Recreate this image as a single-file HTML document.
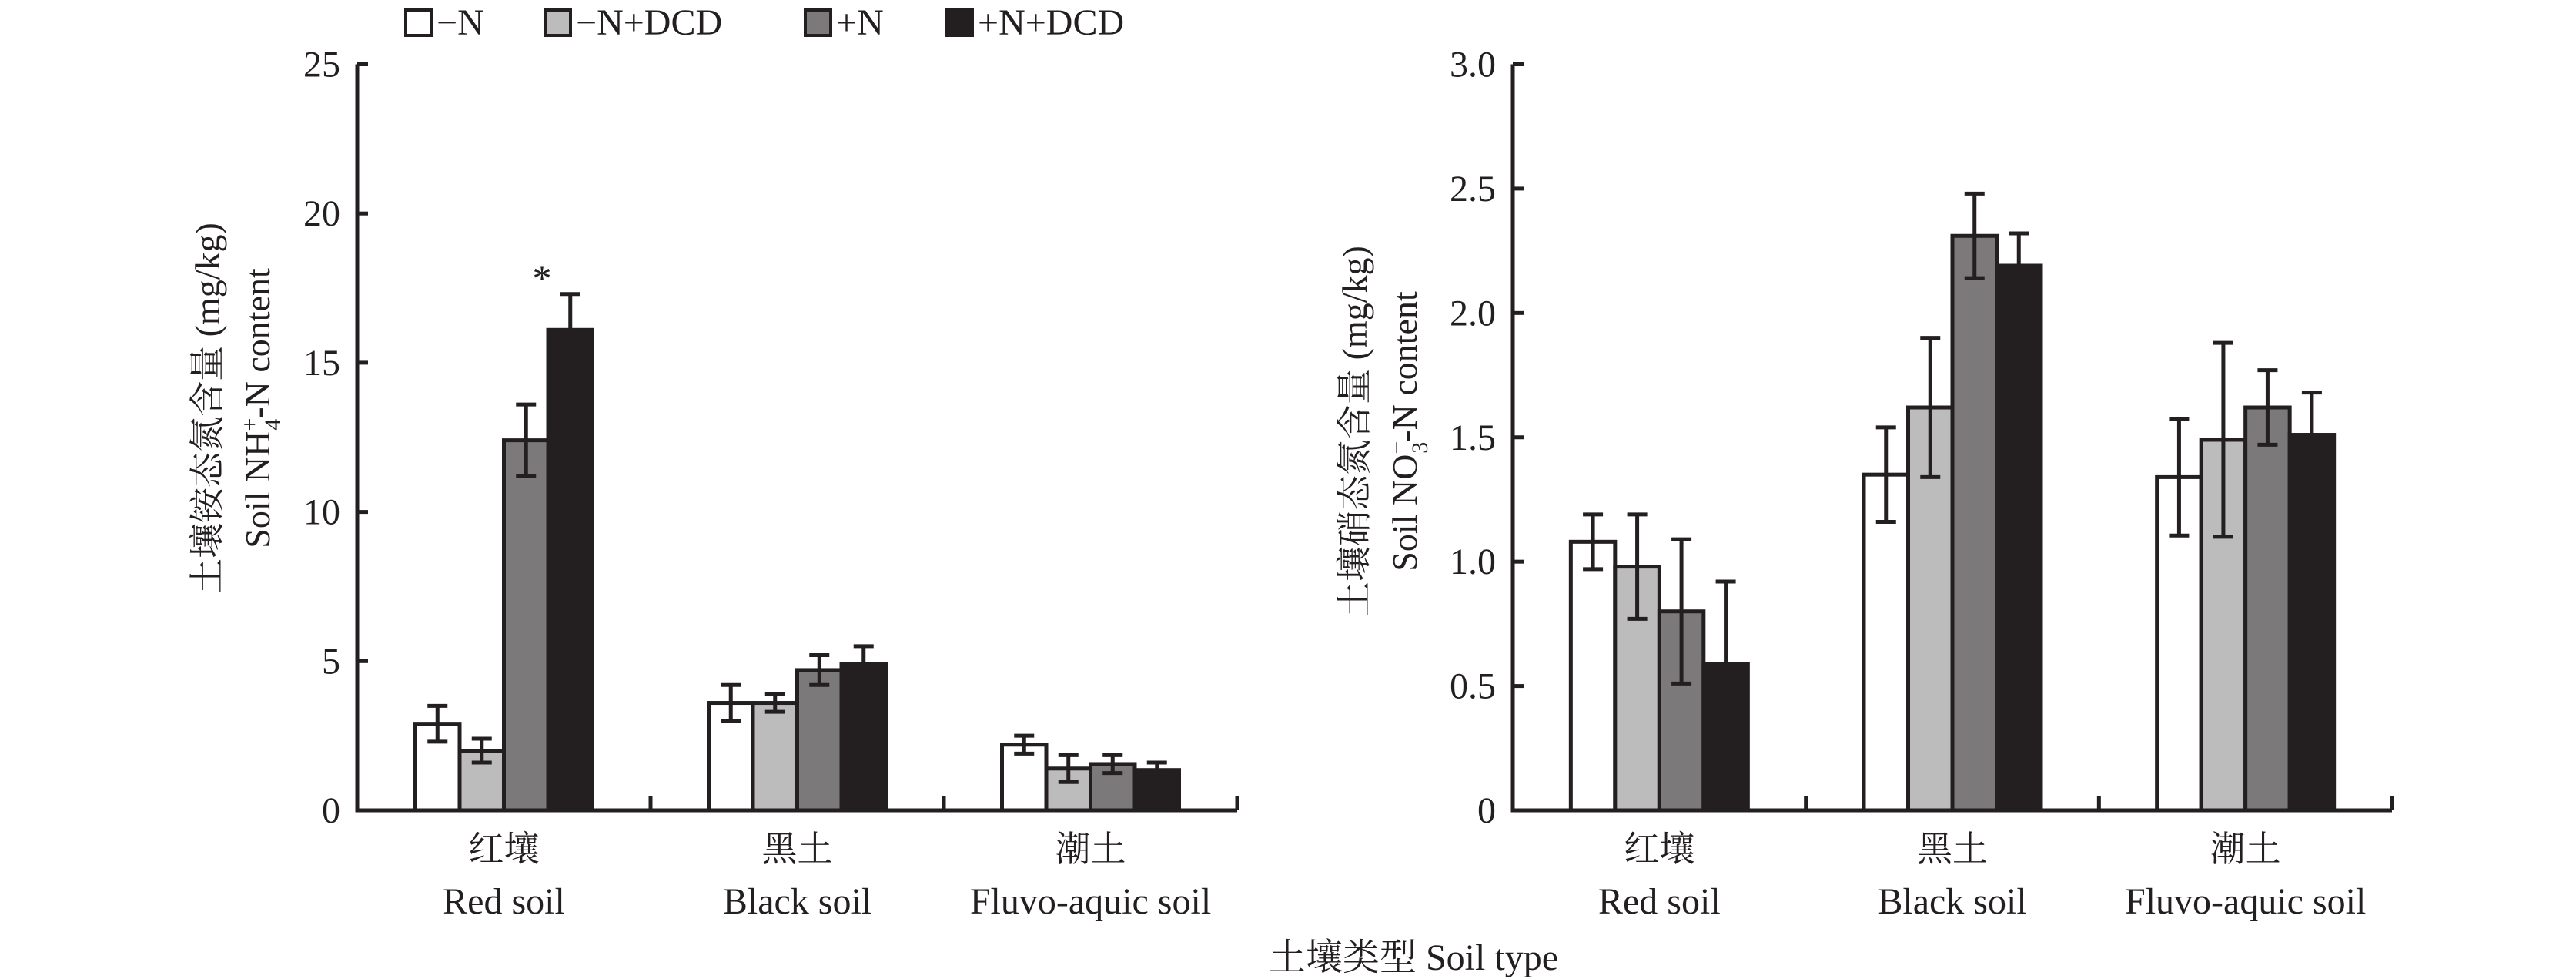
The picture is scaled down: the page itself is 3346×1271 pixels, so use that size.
<!DOCTYPE html>
<html><head><meta charset="utf-8"><style>
html,body{margin:0;padding:0;background:#fff;}
svg{display:block;}
text{font-family:"Liberation Serif","Noto Serif CJK SC","Noto Sans CJK SC",serif;fill:#231f20;}
</style></head><body>
<svg id="chart" width="3346" height="1271" viewBox="0 0 3346 1271" xmlns="http://www.w3.org/2000/svg">
<g id="legend"></g>
<g id="left"></g>
<g id="right"></g>
<text x="1836" y="1259" font-size="48" text-anchor="middle">土壤类型 Soil type</text>
</svg>
<script>
const categoriesZh = ["红壤","黑土","潮土"];
const categoriesEn = ["Red soil","Black soil","Fluvo-aquic soil"];
const seriesNames = ["−N","−N+DCD","+N","+N+DCD"];
const seriesColors = ["#ffffff","#bcbcbc","#7b797a","#231f20"];
const nh4Values = [[2.9,3.6,2.2],[2.0,3.6,1.4],[12.4,4.7,1.55],[16.1,4.9,1.35]];
const nh4Errors = [[0.6,0.6,0.3],[0.4,0.3,0.45],[1.2,0.5,0.3],[1.2,0.6,0.25]];
const nh4Ticks = [0,5,10,15,20,25];
const nh4TickLabels = ["0","5","10","15","20","25"];
const no3Values = [[1.08,1.35,1.34],[0.98,1.62,1.49],[0.80,2.31,1.62],[0.59,2.19,1.51]];
const no3Errors = [[0.11,0.19,0.235],[0.21,0.28,0.39],[0.29,0.17,0.15],[0.33,0.13,0.17]];
const no3Ticks = [0,0.5,1,1.5,2,2.5,3];
const no3TickLabels = ["0","0.5","1.0","1.5","2.0","2.5","3.0"];

const NS="http://www.w3.org/2000/svg";
function mk(parent,tag,attrs){const e=document.createElementNS(NS,tag);for(const k in attrs)e.setAttribute(k,attrs[k]);parent.appendChild(e);return e;}

function drawChart(g, cfg){
  const x0=cfg.x0, x1=cfg.x1, y0=1052, yTop=83.5, ymax=cfg.ymax;
  const yS=v=>y0-(v/ymax)*(y0-yTop);
  const groupW=(x1-x0)/3, barW=57.5;
  const bx=(ci,si)=>x0+groupW*(ci+0.5)-2*barW+si*barW;
  // bars
  for(let si=0;si<4;si++){for(let ci=0;ci<3;ci++){
    const v=cfg.values[si][ci], e=cfg.errors[si][ci];
    const r=mk(g,'rect',{x:bx(ci,si),y:yS(v),width:barW,height:y0-yS(v),fill:seriesColors[si],stroke:'#231f20','stroke-width':5});
    
    
    const cx=bx(ci,si)+barW/2;
    const eb=mk(g,'path',{d:`M${cx},${yS(v+e)}V${yS(v-e)}M${cx-13},${yS(v+e)}H${cx+13}M${cx-13},${yS(v-e)}H${cx+13}`,stroke:'#231f20','stroke-width':5,fill:'none'});
    
    
  }}
  // axes
  const ax=mk(g,'path',{d:`M${x0},${yTop}V${y0}H${x1}`,stroke:'#231f20','stroke-width':5,fill:'none'});
  
  
  for(let k=1;k<=3;k++){
    const sx=x0+groupW*k;
    const t=mk(g,'line',{x1:sx,x2:sx,y1:y0,y2:y0-18,stroke:'#231f20','stroke-width':5});
    
    
  }
  cfg.ticks.forEach((v,i)=>{
    const y=yS(v);
    const t=mk(g,'line',{x1:x0,x2:x0+14,y1:y,y2:y,stroke:'#231f20','stroke-width':5});
    
    
    const l=mk(g,'text',{x:x0-22,y:y+16,'font-size':48,'text-anchor':'end'});
    l.textContent=cfg.tickLabels[i];
    
    
  });
  for(let ci=0;ci<3;ci++){
    const cx=x0+groupW*(ci+0.5);
    const a=mk(g,'text',{x:cx,y:1118,'font-size':46,'text-anchor':'middle'});
    a.textContent=categoriesZh[ci];
    
    
    const b=mk(g,'text',{x:cx,y:1186,'font-size':48,'text-anchor':'middle'});
    b.textContent=categoriesEn[ci];
    
    
  }
}
drawChart(document.getElementById('left'),{key:'nh4',x0:464,x1:1607,ymax:25,values:nh4Values,errors:nh4Errors,ticks:nh4Ticks,tickLabels:nh4TickLabels});
drawChart(document.getElementById('right'),{key:'no3',x0:1965,x1:3107,ymax:3,values:no3Values,errors:no3Errors,ticks:no3Ticks,tickLabels:no3TickLabels});

// asterisk
const L=document.getElementById('left');
const st=mk(L,'text',{x:704,y:378,'font-size':50,'text-anchor':'middle'});
st.textContent='*';



// y titles
function ytitle(g,x1,x2,cy,zh,enHtml){
  const a=mk(g,'text',{x:0,y:0,'font-size':46,'text-anchor':'middle',transform:`translate(${x1},${cy}) rotate(-90)`});
  a.textContent=zh;
  
  
  const b=mk(g,'text',{x:0,y:0,'font-size':46,'text-anchor':'middle',transform:`translate(${x2},${cy}) rotate(-90)`});
  b.innerHTML=enHtml;
  
  
}
ytitle(L,285,350,530,'土壤铵态氮含量 (mg/kg)','Soil NH<tspan font-size="30" dy="-16">+</tspan><tspan font-size="30" dx="-16" dy="30">4</tspan><tspan dy="-14">-N content</tspan>');
ytitle(document.getElementById('right'),1775,1840,560,'土壤硝态氮含量 (mg/kg)','Soil NO<tspan font-size="30" dy="-16">−</tspan><tspan font-size="30" dx="-16" dy="30">3</tspan><tspan dy="-14">-N content</tspan>');

// legend
const lg=document.getElementById('legend');
const legX=[527,708,1046,1230];
seriesNames.forEach((n,i)=>{
  const r=mk(lg,'rect',{x:legX[i],y:13,width:33,height:33,fill:seriesColors[i],stroke:'#231f20','stroke-width':4});
  
  
  const t=mk(lg,'text',{x:legX[i]+40,y:45,'font-size':48});
  t.textContent=n;
  
  
});
</script>
</body></html>
